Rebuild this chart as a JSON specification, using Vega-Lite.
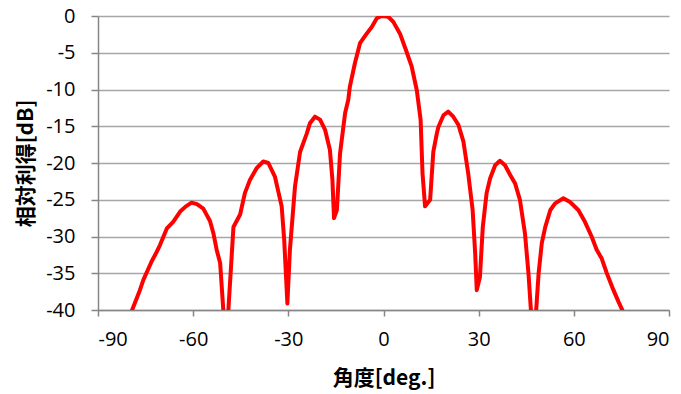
{
  "$schema": "https://vega.github.io/schema/vega-lite/v6.json",
  "width": 571,
  "height": 294,
  "autosize": "none",
  "padding": {"left": 98, "top": 16, "right": 12, "bottom": 84},
  "background": "white",
  "config": {
    "view": {"stroke": null},
    "axis": {
      "labelFont": "Open Sans",
      "labelFontSize": 20,
      "labelColor": "#000000",
      "titleFont": "Noto Sans CJK JP",
      "titleFontSize": 21,
      "titleFontWeight": "bold",
      "titleColor": "#000000",
      "domainColor": "#868686",
      "domainWidth": 1.5,
      "tickColor": "#868686",
      "tickWidth": 1.5,
      "gridColor": "#a6a6a6",
      "gridWidth": 1.5
    }
  },
  "data": {
    "values": [
      {"angle": -80.6, "gain": -41.5},
      {"angle": -76.8, "gain": -37.3},
      {"angle": -75.7, "gain": -35.9},
      {"angle": -73.1, "gain": -33.4},
      {"angle": -71.5, "gain": -32.1},
      {"angle": -70.5, "gain": -31.2},
      {"angle": -68.3, "gain": -28.9},
      {"angle": -66.3, "gain": -28.0},
      {"angle": -64.1, "gain": -26.6},
      {"angle": -62.3, "gain": -25.9},
      {"angle": -60.5, "gain": -25.4},
      {"angle": -58.8, "gain": -25.6},
      {"angle": -56.8, "gain": -26.2},
      {"angle": -55.7, "gain": -27.1},
      {"angle": -54.7, "gain": -27.9},
      {"angle": -53.6, "gain": -29.6},
      {"angle": -52.6, "gain": -31.8},
      {"angle": -51.5, "gain": -33.6},
      {"angle": -50.5, "gain": -40.0},
      {"angle": -49.7, "gain": -46.0},
      {"angle": -48.9, "gain": -40.0},
      {"angle": -47.3, "gain": -28.7},
      {"angle": -45.2, "gain": -27.0},
      {"angle": -43.7, "gain": -24.1},
      {"angle": -42.1, "gain": -22.3},
      {"angle": -40.0, "gain": -20.7},
      {"angle": -37.9, "gain": -19.8},
      {"angle": -36.3, "gain": -20.0},
      {"angle": -34.2, "gain": -21.9},
      {"angle": -32.1, "gain": -25.9},
      {"angle": -31.3, "gain": -30.5},
      {"angle": -30.3, "gain": -39.1},
      {"angle": -29.5, "gain": -31.8},
      {"angle": -27.9, "gain": -23.2},
      {"angle": -26.3, "gain": -18.5},
      {"angle": -24.2, "gain": -16.0},
      {"angle": -23.2, "gain": -14.6},
      {"angle": -21.6, "gain": -13.7},
      {"angle": -20.0, "gain": -14.1},
      {"angle": -18.4, "gain": -15.5},
      {"angle": -16.9, "gain": -18.2},
      {"angle": -16.1, "gain": -22.3},
      {"angle": -15.6, "gain": -27.5},
      {"angle": -14.7, "gain": -26.4},
      {"angle": -13.7, "gain": -18.7},
      {"angle": -12.1, "gain": -13.2},
      {"angle": -11.1, "gain": -11.4},
      {"angle": -10.6, "gain": -9.6},
      {"angle": -9.0, "gain": -6.4},
      {"angle": -7.4, "gain": -3.7},
      {"angle": -5.3, "gain": -2.4},
      {"angle": -3.7, "gain": -1.5},
      {"angle": -2.1, "gain": -0.3},
      {"angle": -0.6, "gain": 0.0},
      {"angle": 1.5, "gain": -0.1},
      {"angle": 3.1, "gain": -0.8},
      {"angle": 5.2, "gain": -2.4},
      {"angle": 7.3, "gain": -4.9},
      {"angle": 8.9, "gain": -6.9},
      {"angle": 10.5, "gain": -10.1},
      {"angle": 11.7, "gain": -14.1},
      {"angle": 12.3, "gain": -21.4},
      {"angle": 13.1, "gain": -25.9},
      {"angle": 14.7, "gain": -25.0},
      {"angle": 15.7, "gain": -18.5},
      {"angle": 16.8, "gain": -16.0},
      {"angle": 17.3, "gain": -15.1},
      {"angle": 18.9, "gain": -13.5},
      {"angle": 20.4, "gain": -13.0},
      {"angle": 22.0, "gain": -13.7},
      {"angle": 23.6, "gain": -14.8},
      {"angle": 25.2, "gain": -17.1},
      {"angle": 26.7, "gain": -21.4},
      {"angle": 28.1, "gain": -26.4},
      {"angle": 28.9, "gain": -32.3},
      {"angle": 29.4, "gain": -37.3},
      {"angle": 30.4, "gain": -35.5},
      {"angle": 31.3, "gain": -28.7},
      {"angle": 32.5, "gain": -24.1},
      {"angle": 33.6, "gain": -22.1},
      {"angle": 35.2, "gain": -20.3},
      {"angle": 36.7, "gain": -19.7},
      {"angle": 38.3, "gain": -20.3},
      {"angle": 39.9, "gain": -21.6},
      {"angle": 41.5, "gain": -22.8},
      {"angle": 43.0, "gain": -25.0},
      {"angle": 44.6, "gain": -29.6},
      {"angle": 45.7, "gain": -35.0},
      {"angle": 46.5, "gain": -40.2},
      {"angle": 47.3, "gain": -46.0},
      {"angle": 48.1, "gain": -40.2},
      {"angle": 48.9, "gain": -35.0},
      {"angle": 49.9, "gain": -30.9},
      {"angle": 51.0, "gain": -28.7},
      {"angle": 52.6, "gain": -26.4},
      {"angle": 54.1, "gain": -25.5},
      {"angle": 56.7, "gain": -24.8},
      {"angle": 58.8, "gain": -25.3},
      {"angle": 61.4, "gain": -26.4},
      {"angle": 63.5, "gain": -28.0},
      {"angle": 65.6, "gain": -30.0},
      {"angle": 67.2, "gain": -31.8},
      {"angle": 68.8, "gain": -33.0},
      {"angle": 70.4, "gain": -35.0},
      {"angle": 72.5, "gain": -37.3},
      {"angle": 74.1, "gain": -38.9},
      {"angle": 75.7, "gain": -40.4},
      {"angle": 77.0, "gain": -42.0}
    ]
  },
  "mark": {"type": "line", "color": "#ff0000", "strokeWidth": 4, "strokeCap": "round", "strokeJoin": "round", "clip": true},
  "encoding": {
    "x": {
      "field": "angle", "type": "quantitative",
      "scale": {"domain": [-90, 90], "nice": false},
      "axis": {"values": [-90, -60, -30, 0, 30, 60, 90], "grid": false, "title": "角度[deg.]", "tickSize": 6, "labelPadding": 13, "titlePadding": 18, "labelExpr": "datum.value < 0 ? '-' + abs(datum.value) : '' + datum.value"}
    },
    "y": {
      "field": "gain", "type": "quantitative",
      "scale": {"domain": [-40, 0], "nice": false, "zero": false},
      "axis": {"values": [0, -5, -10, -15, -20, -25, -30, -35, -40], "grid": true, "title": "相対利得[dB]", "tickSize": 7, "labelPadding": 16, "titlePadding": 9, "labelExpr": "datum.value < 0 ? '-' + abs(datum.value) : '' + datum.value"}
    }
  }
}
